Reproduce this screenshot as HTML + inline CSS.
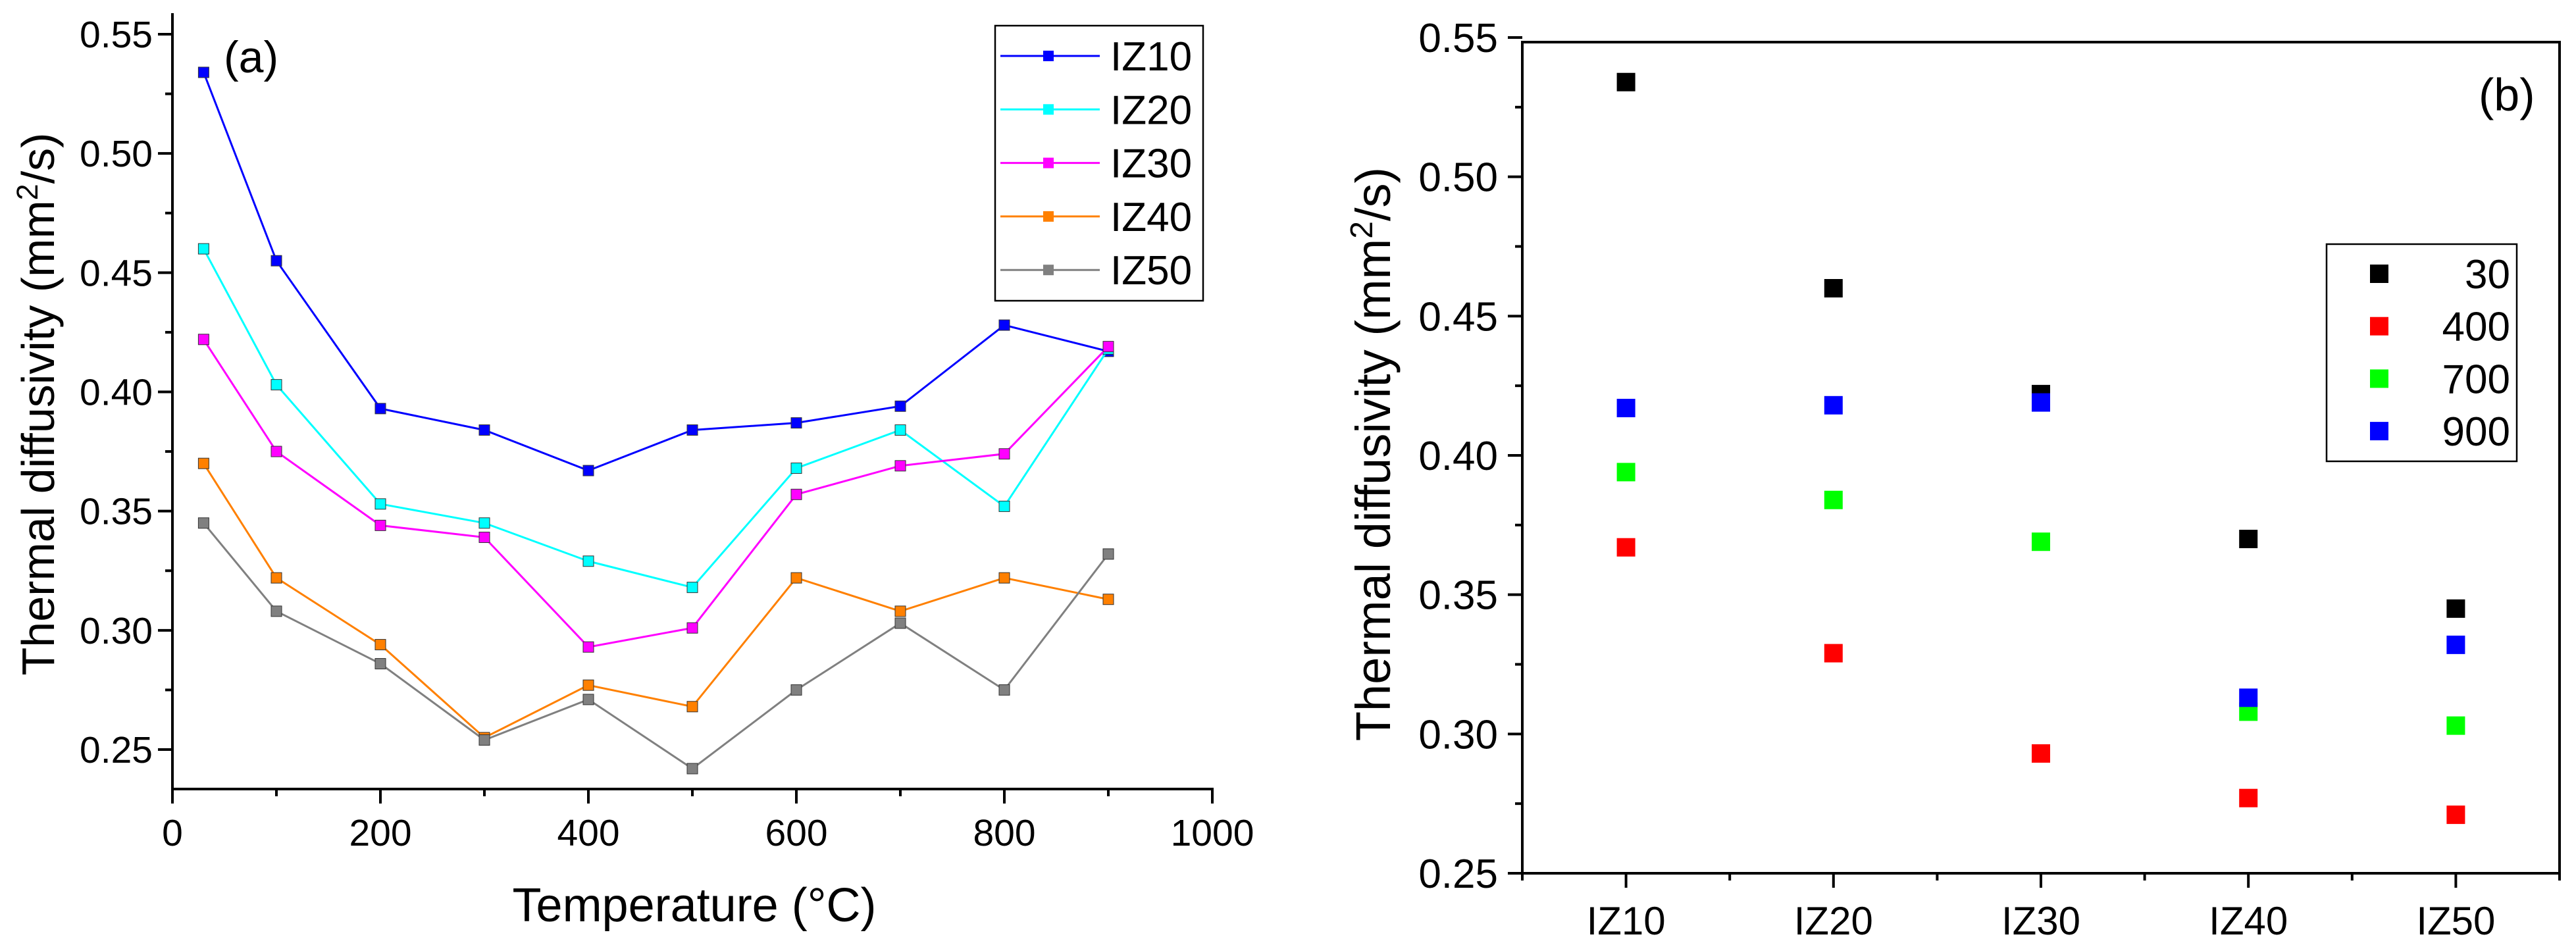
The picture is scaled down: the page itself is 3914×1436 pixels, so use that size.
<!DOCTYPE html>
<html><head><meta charset="utf-8"><style>
html,body{margin:0;padding:0;background:#fff;}
svg{display:block;font-family:"Liberation Sans",Arial,sans-serif;}
</style></head><body>
<svg id="s" width="3914" height="1436" viewBox="0 0 3914 1436" xmlns="http://www.w3.org/2000/svg">
<g id="ga"></g>
<g id="gb"></g>
</svg>
<script>
const temps = [30,100,200,300,400,500,600,700,800,900];
const seriesNames = ["IZ10","IZ20","IZ30","IZ40","IZ50"];
const iz10 = [0.534,0.455,0.393,0.384,0.367,0.384,0.387,0.394,0.428,0.417];
const iz20 = [0.460,0.403,0.353,0.345,0.329,0.318,0.368,0.384,0.352,0.418];
const iz30 = [0.422,0.375,0.344,0.339,0.293,0.301,0.357,0.369,0.374,0.419];
const iz40 = [0.370,0.322,0.294,0.255,0.277,0.268,0.322,0.308,0.322,0.313];
const iz50 = [0.345,0.308,0.286,0.254,0.271,0.242,0.275,0.303,0.275,0.332];
const xTicksA = [0,200,400,600,800,1000];
const yTicks = [0.25,0.30,0.35,0.40,0.45,0.50,0.55];
const categories = ["IZ10","IZ20","IZ30","IZ40","IZ50"];
const bNames = ["30","400","700","900"];
const b30 = [0.534,0.460,0.422,0.370,0.345];
const b400 = [0.367,0.329,0.293,0.277,0.271];
const b700 = [0.394,0.384,0.369,0.308,0.303];
const b900 = [0.417,0.418,0.419,0.313,0.332];

const NS="http://www.w3.org/2000/svg";
function mk(parent,tag,attrs,text){const e=document.createElementNS(NS,tag);for(const k in attrs)e.setAttribute(k,attrs[k]);if(text!==undefined)e.textContent=text;parent.appendChild(e);return e;}

// ---------- Chart A ----------
const ga=document.getElementById('ga');
const ax=v=>262+(v/1000)*1580;
const ay=v=>1139-(v-0.25)/0.30*1087;
const colorsA=["#0000ff","#00ffff","#ff00ff","#ff8000","#808080"];
const dataA=[iz10,iz20,iz30,iz40,iz50];
// axes
let e;
e=mk(ga,'line',{x1:262,y1:20,x2:262,y2:1201,stroke:'#000','stroke-width':4});


e=mk(ga,'line',{x1:260,y1:1199,x2:1844,y2:1199,stroke:'#000','stroke-width':4});


for(let v=0;v<=1000;v+=100){const maj=v%200===0;
 e=mk(ga,'line',{x1:ax(v),y1:1199,x2:ax(v),y2:1199+(maj?22:11),stroke:'#000','stroke-width':4});
 
 }
xTicksA.forEach(v=>{e=mk(ga,'text',{x:ax(v),y:1285,'font-size':57,'text-anchor':'middle'},String(v));
 
 });
for(let i=0;i<=12;i++){const v=0.25+i*0.025;const maj=i%2===0;
 e=mk(ga,'line',{x1:262,y1:ay(v),x2:262-(maj?22:11),y2:ay(v),stroke:'#000','stroke-width':4});
 
 }
yTicks.forEach(v=>{e=mk(ga,'text',{x:232,y:ay(v)+20,'font-size':57,'text-anchor':'end'},v.toFixed(2));
 
 });
e=mk(ga,'text',{x:1055,y:1400,'font-size':72,'text-anchor':'middle'},'Temperature (°C)');


e=mk(ga,'text',{transform:'translate(82,614) rotate(-90)','font-size':70,'text-anchor':'middle'});


e.innerHTML='Thermal diffusivity (mm<tspan dy="-25" font-size="45">2</tspan><tspan dy="25">/s)</tspan>';
e=mk(ga,'text',{x:340,y:110,'font-size':68},'(a)');


dataA.forEach((d,si)=>{
 const pts=d.map((v,i)=>ax(temps[i])+','+ay(v)).join(' ');
 e=mk(ga,'polyline',{points:pts,fill:'none',stroke:colorsA[si],'stroke-width':3});
 
 
 d.forEach((v,i)=>{e=mk(ga,'rect',{x:ax(temps[i])-8,y:ay(v)-8,width:16,height:16,fill:colorsA[si],stroke:'#333','stroke-width':1});
  
  });
});
// legend A
e=mk(ga,'rect',{x:1512,y:39,width:316,height:418,fill:'#fff',stroke:'#000','stroke-width':2.5});


seriesNames.forEach((n,i)=>{const y=85+i*81.3;
 e=mk(ga,'line',{x1:1520,y1:y,x2:1671,y2:y,stroke:colorsA[i],'stroke-width':3});
 
 
 e=mk(ga,'rect',{x:1585,y:y-8,width:16,height:16,fill:colorsA[i]});
 
 
 e=mk(ga,'text',{x:1687,y:y+22,'font-size':62},n);
 
 });

// ---------- Chart B ----------
const gb=document.getElementById('gb');
const bx=i=>2313+(i+0.5)*315.2;
const by=v=>1327-(v-0.25)/0.30*1270;
const colorsB=["#000000","#ff0000","#00ff00","#0000ff"];
const dataB=[b30,b400,b700,b900];
e=mk(gb,'rect',{x:2313,y:64,width:1576,height:1263,fill:'none',stroke:'#000','stroke-width':4});


for(let i=0;i<=10;i++){const xx=2313+i*157.6;const maj=i%2===1;
 e=mk(gb,'line',{x1:xx,y1:1327,x2:xx,y2:1327+(maj?22:11),stroke:'#000','stroke-width':4});
 
 }
categories.forEach((c,i)=>{e=mk(gb,'text',{x:bx(i),y:1420,'font-size':60,'text-anchor':'middle'},c);
 
 });
for(let i=0;i<=12;i++){const v=0.25+i*0.025;const maj=i%2===0;
 e=mk(gb,'line',{x1:2313,y1:by(v),x2:2313-(maj?22:11),y2:by(v),stroke:'#000','stroke-width':4});
 
 }
yTicks.forEach(v=>{e=mk(gb,'text',{x:2276,y:by(v)+22,'font-size':62,'text-anchor':'end'},v.toFixed(2));
 
 });
e=mk(gb,'text',{transform:'translate(2112,690) rotate(-90)','font-size':74,'text-anchor':'middle'});


e.innerHTML='Thermal diffusivity (mm<tspan dy="-27" font-size="48">2</tspan><tspan dy="27">/s)</tspan>';
e=mk(gb,'text',{x:3766,y:168,'font-size':70},'(b)');


dataB.forEach((d,si)=>{d.forEach((v,i)=>{
 e=mk(gb,'rect',{x:bx(i)-14,y:by(v)-14,width:28,height:28,fill:colorsB[si]});
 
 });});
e=mk(gb,'rect',{x:3535,y:371,width:289,height:330,fill:'#fff',stroke:'#000','stroke-width':2.5});


bNames.forEach((n,i)=>{const y=416+i*79.7;
 e=mk(gb,'rect',{x:3601,y:y-14,width:28,height:28,fill:colorsB[i]});
 
 
 e=mk(gb,'text',{x:3814,y:y+22,'font-size':62,'text-anchor':'end'},n);
 
 });
</script>
</body></html>
